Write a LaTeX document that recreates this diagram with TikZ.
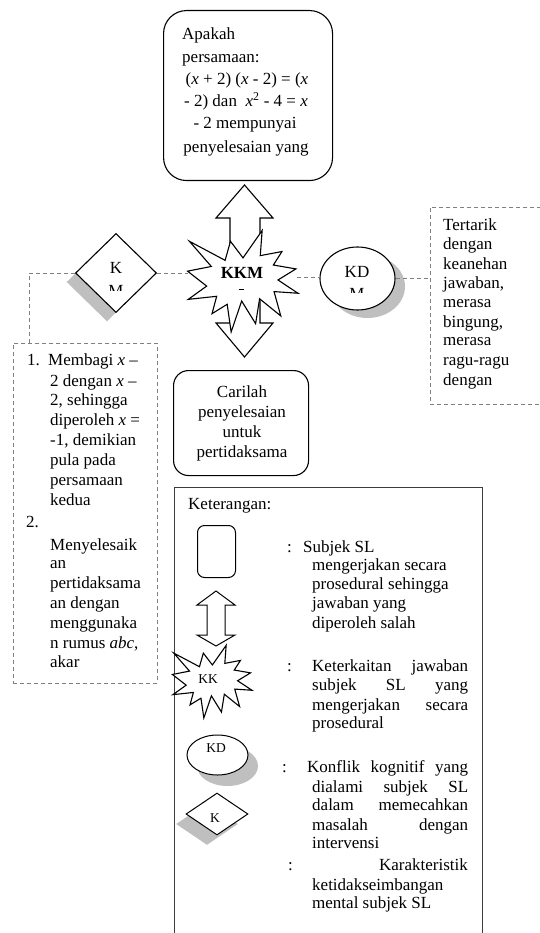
\documentclass[tikz,border=0pt]{standalone}
\usepackage{fontspec}
\setmainfont{Liberation Serif}
\usetikzlibrary{shapes.geometric,shadows}
\definecolor{dgray}{RGB}{128,128,128}
\definecolor{shgray}{RGB}{191,191,191}
\definecolor{lgray}{RGB}{60,60,60}
\tikzset{
  tx/.style={font=\fontsize{17}{20}\selectfont, inner sep=0pt, anchor=base west},
  txc/.style={tx, anchor=base},
  txr/.style={tx, anchor=base east},
  txs/.style={font=\fontsize{13.5}{16}\selectfont, inner sep=0pt, anchor=base},
  dline/.style={draw=dgray, dash pattern=on 4pt off 3pt, line width=0.9pt},
  shp/.style={draw=black, fill=white, line width=1.1pt},
  burst/.pic={\path[shp] (109.01,59.05) -- (84.58,23.99) -- (74.17,64.25) -- (4.76,23.99) -- (47.32,77.22) -- (1.06,87.18) -- (38.28,118.80) -- (2.43,146.89) -- (57.72,140.41) -- (48.68,177.19) -- (78.19,157.30) -- (85.90,216.00) -- (106.37,150.38) -- (133.49,198.40) -- (141.25,145.61) -- (182.48,181.95) -- (169.38,130.44) -- (216.00,133.93) -- (177.10,105.79) -- (211.98,82.42) -- (168.06,74.17) -- (184.82,45.60) -- (142.57,54.29) -- (146.23,1.06) -- cycle;}
}
\begin{document}
\begin{tikzpicture}[x=1pt,y=-1pt]
\useasboundingbox (0,0) rectangle (540,933);

% ---------- top question box ----------
\node[shp, rounded corners=23pt, minimum width=169pt, minimum height=170pt, inner sep=0pt, anchor=north west] (q) at (163,10) {};
\node[tx] (q1) at (182,40) {Apakah};
\node[tx] (q2) at (182,63) {persamaan:};
\node[txc] (q3) at (247,85) {(\textit{x} + 2) (\textit{x} - 2) = (\textit{x}};
\node[txc] (q4) at (246,107) {- 2) dan\ \ \textit{x}\textsuperscript{2} - 4 = \textit{x}};
\node[txc] (q5) at (245,129) {- 2 mempunyai};
\node[txc] (q6) at (246,153) {penyelesaian yang};

% ---------- double arrow ----------
\path[shp] (244.5,185) -- (273,218) -- (260,218) -- (260,323) -- (273,323) -- (244.5,357) -- (216,323) -- (230,323) -- (230,218) -- (216,218) -- cycle;

% ---------- KKM burst ----------
\begin{scope}[shift={(187,230)}, x={(0.51389pt,0pt)}, y={(0pt,-0.47222pt)}]
  \pic {burst};
\end{scope}
\node[txc, font=\fontsize{17}{20}\selectfont\bfseries] (kkm) at (242,278) {KKM};
\draw[line width=1pt] (238.5,289.5) -- (244,289.5);
\coordinate (kkmL) at (188,273);
\coordinate (kkmR) at (297,277);

% ---------- diamond K ----------
\node[diamond, shp, minimum width=81pt, minimum height=79pt, inner sep=0pt,
      general shadow={fill=shgray, shadow xshift=-9pt, shadow yshift=-9pt}] (dia) at (116,273) {};
\begin{scope}
  \clip (90,250) rectangle (145,290);
  \node[txc] (dk1) at (116,273) {K};
  \node[txc] (dk2) at (116,296) {M};
\end{scope}

% ---------- ellipse KD ----------
\node[ellipse, shp, minimum width=75pt, minimum height=63pt, inner sep=0pt,
      general shadow={fill=shgray, shadow xshift=10pt, shadow yshift=-8pt}] (kd) at (357.5,278.5) {};
\begin{scope}
  \clip (330,255) rectangle (385,292);
  \node[txc] (kd1) at (357,277) {KD};
  \node[txc] (kd2) at (357,299) {M};
\end{scope}

% ---------- dashed boxes ----------
\node[dline, minimum width=144pt, minimum height=340pt, inner sep=0pt, anchor=north west] (lbox) at (13,343) {};
\node[dline, minimum width=125pt, minimum height=197pt, inner sep=0pt, anchor=north west] (rbox) at (430,207) {};
\coordinate (lt) at (29,343);

% connectors
\draw[dline] (dia.east) -- (kkmL);
\draw[dline] (dia.west) -| (lt);
\draw[dline] (kkmR) -- (kkmR -| kd.west);
\draw[dline] (kd.east) -- (kd.east -| rbox.west);

% right box text
\node[tx] (r1) at (443,230) {Tertarik};
\node[tx] (r2) at (443,249) {dengan};
\node[tx] (r3) at (443,269) {keanehan};
\node[tx] (r4) at (443,288) {jawaban,};
\node[tx] (r5) at (443,307) {merasa};
\node[tx] (r6) at (443,327) {bingung,};
\node[tx] (r7) at (443,345) {merasa};
\node[tx] (r8) at (443,365) {ragu-ragu};
\node[tx] (r9) at (443,385) {dengan};

% left box text
\node[tx] (a0) at (27,365) {1.};
\node[tx] (a1) at (48,365) {Membagi \textit{x} –};
\node[tx] (a2) at (50,386) {2 dengan \textit{x} –};
\node[tx] (a3) at (50,405) {2, sehingga};
\node[tx] (a4) at (50,425) {diperoleh \textit{x} =};
\node[tx] (a5) at (50,445) {-1, demikian};
\node[tx] (a6) at (50,465) {pula pada};
\node[tx] (a7) at (50,485) {persamaan};
\node[tx] (a8) at (50,505) {kedua};
\node[tx] (b0) at (26,527) {2.};
\node[tx] (b1) at (50,550) {Menyelesaik};
\node[tx] (b2) at (50,568) {an};
\node[tx] (b3) at (50,588) {pertidaksama};
\node[tx] (b4) at (50,608) {an dengan};
\node[tx] (b5) at (50,628) {menggunaka};
\node[tx] (b6) at (50,648) {n rumus \textit{abc},};
\node[tx] (b7) at (50,667) {akar};

% ---------- Carilah box ----------
\node[shp, rounded corners=15pt, minimum width=135pt, minimum height=105pt, inner sep=0pt, anchor=north west] (c) at (173,370) {};
\node[txc] (c1) at (242,397) {Carilah};
\node[txc] (c2) at (242,417) {penyelesaian};
\node[txc] (c3) at (242,437) {untuk};
\node[txc] (c4) at (242,457) {pertidaksama};

% ---------- legend ----------
\node[draw=lgray, line width=1.3pt, minimum width=308pt, minimum height=470pt, inner sep=0pt, anchor=north west] (leg) at (174,487) {};
\node[tx] (k0) at (188,509) {Keterangan:};

\node[draw, line width=1pt, rounded corners=7pt, minimum width=38pt, minimum height=52pt, inner sep=0pt, anchor=north west] (lr) at (197,525) {};
\path[shp, line width=1pt] (216,591) -- (235,605) -- (225,605) -- (225,635) -- (235,635) -- (216,646) -- (197,635) -- (207,635) -- (207,605) -- (197,605) -- cycle;
\begin{scope}[shift={(172,645)}, x={(0.37037pt,0pt)}, y={(0pt,-0.33796pt)}]
  \pic {burst};
\end{scope}
\node[txs] (lkk) at (208,683) {KK};
\node[ellipse, shp, line width=1pt, minimum width=61pt, minimum height=40pt, inner sep=0pt,
      general shadow={fill=shgray, shadow xshift=10pt, shadow yshift=-11pt}] (lkd) at (217.5,755) {};
\node[txs] (lkdt) at (216,752) {KD};
\node[diamond, shp, line width=1pt, minimum width=62pt, minimum height=42pt, inner sep=0pt,
      general shadow={fill=shgray, shadow xshift=-10pt, shadow yshift=-10pt}] (ldi) at (217,814) {};
\node[txs] (ldit) at (215,822) {K};

% legend texts
\node[tx] (s0) at (287,552) {:};
\node[tx] (s1) at (303,552) {Subjek SL};
\node[tx] (s2) at (312,570) {mengerjakan secara};
\node[tx] (s3) at (312,589) {prosedural sehingga};
\node[tx] (s4) at (312,608) {jawaban yang};
\node[tx] (s5) at (312,628) {diperoleh salah};

\node[tx] (t0) at (287,671) {:};
\node[tx] (t1) at (312,671) {\makebox[156pt][s]{Keterkaitan\hfill jawaban}};
\node[tx] (t2) at (312,690) {\makebox[156pt][s]{subjek\hfill SL\hfill yang}};
\node[tx] (t3) at (312,710) {\makebox[156pt][s]{mengerjakan\hfill secara}};
\node[tx] (t4) at (312,728) {prosedural};

\node[tx] (u0) at (282,772) {:};
\node[tx] (u1) at (307,772) {\makebox[161pt][s]{Konflik\hfill kognitif\hfill yang}};
\node[tx] (u2) at (312,792) {\makebox[156pt][s]{dialami\hfill subjek\hfill SL}};
\node[tx] (u3) at (312,810) {\makebox[156pt][s]{dalam\hfill memecahkan}};
\node[tx] (u4) at (312,830) {\makebox[156pt][s]{masalah\hfill dengan}};
\node[tx] (u5) at (312,848) {intervensi};

\node[tx] (v0) at (288,870) {:};
\node[txr] (v1) at (468,870) {Karakteristik};
\node[tx] (v2) at (312,890) {ketidakseimbangan};
\node[tx] (v3) at (312,908) {mental subjek SL};
\end{tikzpicture}
\end{document}
